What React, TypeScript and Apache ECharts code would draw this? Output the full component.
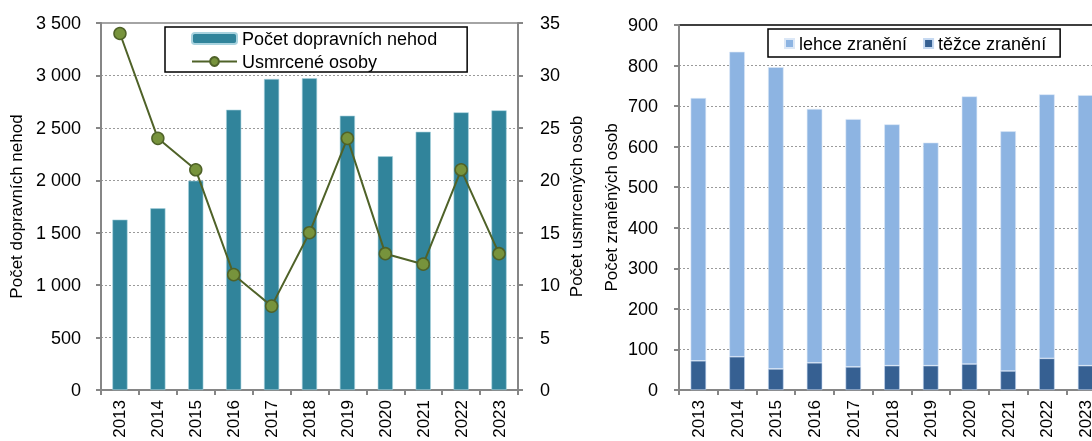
import React, { useEffect, useRef } from "react";
import * as echarts from "echarts";

const years = ["2013", "2014", "2015", "2016", "2017", "2018", "2019", "2020", "2021", "2022", "2023"];
const accidents = [1625, 1733, 1996, 2673, 2966, 2973, 2616, 2229, 2463, 2648, 2667];
const killed = [34, 24, 21, 11, 8, 15, 24, 13, 12, 21, 13];
const severeInjured = [72, 82, 52, 67, 57, 60, 60, 64, 47, 78, 60];
const lightInjured = [648, 752, 744, 626, 611, 595, 550, 660, 591, 651, 667];

const FONT = "Liberation Sans, Arial, sans-serif";
const AXIS_GRAY = "#868686";

function thousands(v: number): string {
  return String(v).replace(/\B(?=(\d{3})+(?!\d))/g, " ");
}

export default function App() {
  const ref = useRef<HTMLDivElement>(null);
  useEffect(() => {
    if (!ref.current) return;
    const chart = echarts.init(ref.current, null, { renderer: "svg" });
    const axisLine = { show: true, lineStyle: { color: AXIS_GRAY, width: 2 } };
    const axisTick = { show: true, length: 5, lineStyle: { color: AXIS_GRAY, width: 2 } };
    const splitLine = {
      show: true,
      showMinLine: false,
      showMaxLine: false,
      lineStyle: { color: "#9a9a9a", width: 1, type: [2, 2] as any },
    };
    const tickLabel = { fontFamily: FONT, fontSize: 18, color: "#000" };
    const nameStyle = { fontFamily: FONT, fontSize: 17, color: "#000" };
    const xLabel = { fontFamily: FONT, fontSize: 17, color: "#000", rotate: 90, margin: 10, interval: 0 };

    chart.setOption({
      animation: false,
      grid: [
        {
          left: 101, right: 574, top: 23, bottom: 51,
          outerBoundsMode: "none", containLabel: false,
          show: true, borderColor: AXIS_GRAY, borderWidth: 1.5, backgroundColor: "transparent",
        },
        {
          left: 679, width: 426, top: 25, bottom: 51,
          outerBoundsMode: "none", containLabel: false,
          show: true, borderColor: "#000", borderWidth: 1.5, backgroundColor: "transparent",
        },
      ],
      legend: [
        {
          data: ["Počet dopravních nehod", "Usmrcené osoby"],
          orient: "vertical",
          left: 165,
          top: 27,
          itemWidth: 45,
          itemHeight: 11,
          itemGap: 4,
          padding: [2, 30, 1, 26],
          borderColor: "#000",
          borderWidth: 1.5,
          backgroundColor: "#fff",
          textStyle: { fontFamily: FONT, fontSize: 18, color: "#000", lineHeight: 19 },
        },
        {
          data: ["lehce zranění", "těžce zranění"],
          orient: "horizontal",
          left: 768,
          top: 29,
          itemWidth: 9,
          itemHeight: 9,
          itemGap: 16,
          icon: "rect",
          padding: [5, 14, 4, 16],
          borderColor: "#000",
          borderWidth: 1.5,
          backgroundColor: "#fff",
          textStyle: { fontFamily: FONT, fontSize: 18, color: "#000", lineHeight: 19 },
        },
      ],
      xAxis: [
        {
          type: "category",
          gridIndex: 0,
          data: years,
          axisLine,
          axisTick: { ...axisTick, interval: 0 },
          axisLabel: xLabel,
        },
        {
          type: "category",
          gridIndex: 1,
          data: years,
          axisLine,
          axisTick: { ...axisTick, interval: 0 },
          axisLabel: xLabel,
        },
      ],
      yAxis: [
        {
          type: "value",
          gridIndex: 0,
          min: 0,
          max: 3500,
          interval: 500,
          axisLine,
          axisTick,
          splitLine,
          axisLabel: { ...tickLabel, margin: 20, formatter: (v: number) => thousands(v) },
          name: "Počet dopravních nehod",
          nameLocation: "middle",
          nameRotate: 90,
          nameGap: 76,
          nameTextStyle: nameStyle,
        },
        {
          type: "value",
          gridIndex: 0,
          position: "right",
          min: 0,
          max: 35,
          interval: 5,
          axisLine,
          axisTick,
          splitLine: { show: false },
          axisLabel: { ...tickLabel, margin: 22 },
          name: "Počet usmrcených osob",
          nameLocation: "middle",
          nameRotate: 90,
          nameGap: 50,
          nameTextStyle: nameStyle,
        },
        {
          type: "value",
          gridIndex: 1,
          min: 0,
          max: 900,
          interval: 100,
          axisLine,
          axisTick,
          splitLine,
          axisLabel: { ...tickLabel, margin: 21 },
          name: "Počet zraněných osob",
          nameLocation: "middle",
          nameRotate: 90,
          nameGap: 59,
          nameTextStyle: nameStyle,
        },
      ],
      series: [
        {
          name: "Počet dopravních nehod",
          type: "bar",
          xAxisIndex: 0,
          yAxisIndex: 0,
          data: accidents,
          barWidth: "40%",
          itemStyle: { color: "#31849B", borderColor: "#a9d3df", borderWidth: 0.6 },
        },
        {
          name: "Usmrcené osoby",
          type: "line",
          xAxisIndex: 0,
          yAxisIndex: 1,
          data: killed,
          symbol: "circle",
          symbolSize: 12,
          lineStyle: { color: "#4F6228", width: 2 },
          itemStyle: { color: "#77933C", borderColor: "#4F6228", borderWidth: 1.5 },
          z: 5,
        },
        {
          name: "těžce zranění",
          type: "bar",
          xAxisIndex: 1,
          yAxisIndex: 2,
          stack: "injured",
          data: severeInjured,
          barWidth: "40%",
          itemStyle: { color: "#366092", borderColor: "#c6d9f1", borderWidth: 0.6 },
        },
        {
          name: "lehce zranění",
          type: "bar",
          xAxisIndex: 1,
          yAxisIndex: 2,
          stack: "injured",
          data: lightInjured,
          barWidth: "40%",
          itemStyle: { color: "#8DB4E2", borderColor: "#dbe7f6", borderWidth: 0.6 },
        },
      ],
    });
    return () => chart.dispose();
  }, []);
  return <div ref={ref} style={{ position: "fixed", left: 0, top: 0, width: 1092, height: 441 }} />;
}
